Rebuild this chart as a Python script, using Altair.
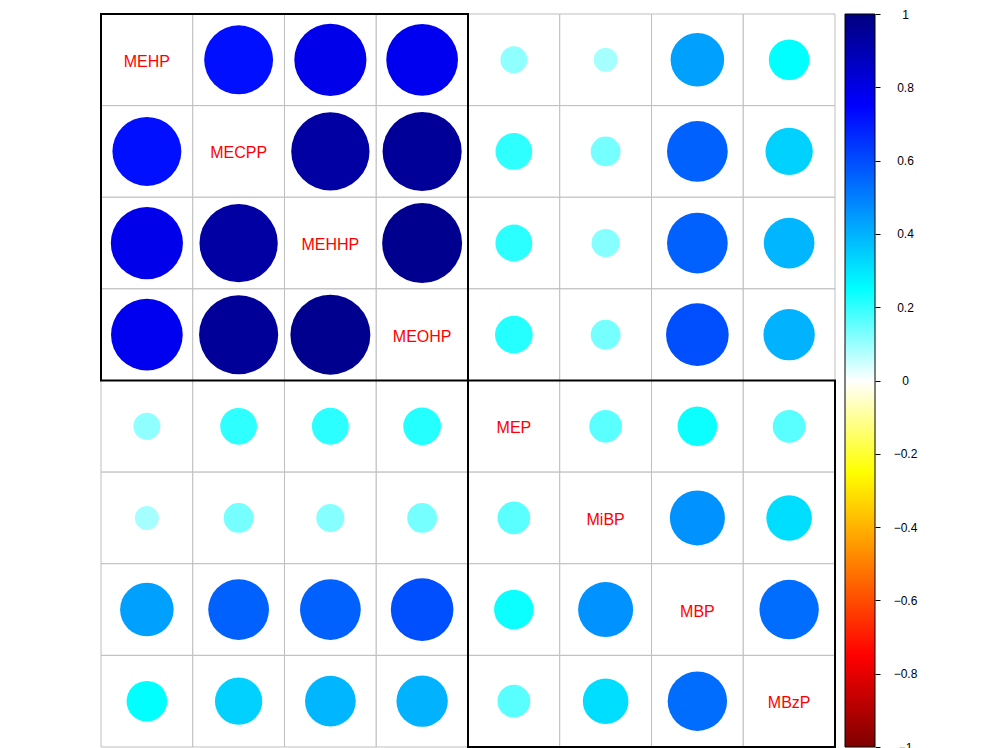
import altair as alt
import pandas as pd

# ---- data ----
variables = ["MEHP", "MECPP", "MEHHP", "MEOHP", "MEP", "MiBP", "MBP", "MBzP"]
corr_MEHP  = [1.000, 0.720, 0.790, 0.780, 0.110, 0.087, 0.435, 0.250]
corr_MECPP = [0.720, 1.000, 0.930, 0.950, 0.205, 0.135, 0.560, 0.340]
corr_MEHHP = [0.790, 0.930, 1.000, 0.970, 0.207, 0.120, 0.560, 0.390]
corr_MEOHP = [0.780, 0.950, 0.970, 1.000, 0.215, 0.135, 0.595, 0.400]
corr_MEP   = [0.110, 0.205, 0.207, 0.215, 1.000, 0.162, 0.238, 0.163]
corr_MiBP  = [0.087, 0.135, 0.120, 0.135, 0.162, 1.000, 0.460, 0.315]
corr_MBP   = [0.435, 0.560, 0.560, 0.595, 0.238, 0.460, 1.000, 0.535]
corr_MBzP  = [0.250, 0.340, 0.390, 0.400, 0.163, 0.315, 0.535, 1.000]
corr_rows = [corr_MEHP, corr_MECPP, corr_MEHHP, corr_MEOHP,
             corr_MEP, corr_MiBP, corr_MBP, corr_MBzP]

cluster_start = [0, 4]
cluster_end = [4, 8]

color_stops = [-1, -0.75, -0.5, -0.25, 0, 0.25, 0.5, 0.75, 1]
color_range = ["#7F0000", "#FF0000", "#FF7F00", "#FFFF00", "#FFFFFF",
               "#00FFFF", "#007FFF", "#0000FF", "#00007F"]
legend_ticks = [-1, -0.8, -0.6, -0.4, -0.2, 0, 0.2, 0.4, 0.6, 0.8, 1]

# ---- tables ----
records = []
for i, a in enumerate(variables):
    for j, b in enumerate(variables):
        r = corr_rows[i][j]
        records.append({"row": i, "col": j, "r": r, "absr": abs(r),
                        "diag": i == j, "label": a if i == j else ""})
df = pd.DataFrame(records)
df_off = df[~df["diag"]]
df_diag = df[df["diag"]]
df_box = pd.DataFrame({"start": cluster_start, "end": cluster_end})
df_bar = pd.DataFrame({"lo": [-1], "hi": [1]})

n = len(variables)
xs = alt.Scale(domain=[0, n], nice=False, zero=False)
ys = alt.Scale(domain=[0, n], nice=False, zero=False, reverse=True)

cells = alt.Chart(df).mark_rect(fill="white", stroke="#BEBEBE", strokeWidth=1).transform_calculate(
    c1="datum.col + 1", r1="datum.row + 1"
).encode(
    x=alt.X("col:Q", scale=xs, axis=None),
    x2="c1:Q",
    y=alt.Y("row:Q", scale=ys, axis=None),
    y2="r1:Q",
)

# Vega symbol size = area of the bounding square, so diameter = sqrt(size)
circles = alt.Chart(df_off).mark_circle(opacity=1).transform_calculate(
    cx="datum.col + 0.5", cy="datum.row + 0.5"
).encode(
    x=alt.X("cx:Q", scale=xs, axis=None),
    y=alt.Y("cy:Q", scale=ys, axis=None),
    size=alt.Size("absr:Q", scale=alt.Scale(domain=[0, 1], range=[0, 6590]), legend=None),
    color=alt.Color("r:Q", scale=alt.Scale(type="linear", domain=color_stops, range=color_range,
                                           interpolate="rgb"), legend=None),
)

labels = alt.Chart(df_diag).mark_text(color="#FF0000", font="Liberation Sans", fontSize=16,
                                      baseline="middle", align="center", dy=2).transform_calculate(
    cx="datum.col + 0.5", cy="datum.row + 0.5"
).encode(
    x=alt.X("cx:Q", scale=xs, axis=None),
    y=alt.Y("cy:Q", scale=ys, axis=None),
    text="label:N",
)

boxes = alt.Chart(df_box).mark_rect(filled=False, stroke="black", strokeWidth=2).encode(
    x=alt.X("start:Q", scale=xs, axis=None),
    x2="end:Q",
    y=alt.Y("start:Q", scale=ys, axis=None),
    y2="end:Q",
)

gradient = alt.LinearGradient(
    gradient="linear",
    stops=[alt.GradientStop(color=c, offset=(v + 1) / 2) for v, c in zip(color_stops, color_range)],
    x1=0, x2=0, y1=1, y2=0,
)

colorbar = alt.Chart(df_bar).mark_rect(fill=gradient, stroke="black", strokeWidth=1).encode(
    x=alt.value(744),
    x2=alt.value(774),
    y=alt.Y("lo:Q", scale=alt.Scale(domain=[-1, 1], nice=False, zero=False),
            axis=alt.Axis(orient="right", offset=40, values=legend_ticks, format="~g",
                          domain=False, ticks=True, tickColor="black", tickSize=5, tickWidth=1,
                          labelAlign="center", labelBaseline="middle", labelPadding=25,
                          labelFontSize=12, labelFont="Liberation Sans", labelColor="black",
                          title=None, grid=False, labelFlush=False, labelOverlap=False,
                          labelBound=False)),
    y2="hi:Q",
)

chart = alt.layer(cells, circles, labels, boxes, colorbar).resolve_scale(
    y="independent"
).properties(
    width=734,
    height=733,
    autosize=alt.AutoSizeParams(type="none"),
    padding={"left": 101, "top": 14, "right": 165, "bottom": 1},
    background="white",
).configure_view(stroke=None)

chart.save("out.html", embed_options={"renderer": "svg", "actions": False})
